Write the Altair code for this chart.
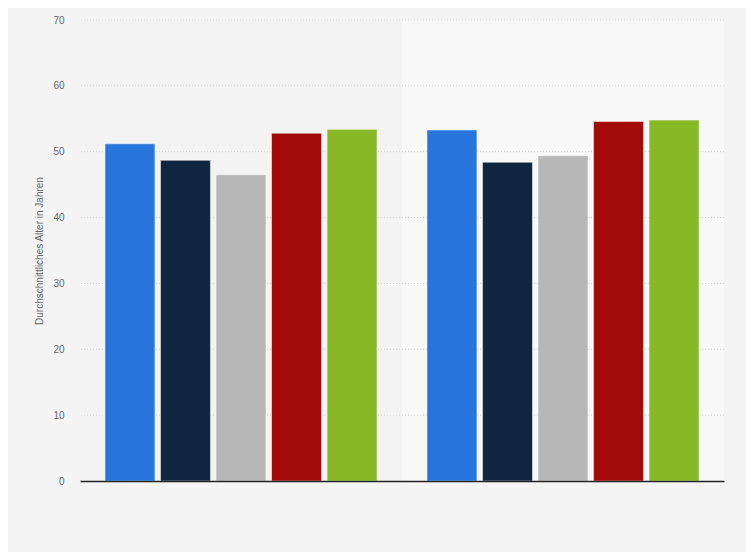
import altair as alt
import pandas as pd

groups = ["Gruppe 1", "Gruppe 2"]
series = ["Kategorie A", "Kategorie B", "Kategorie C", "Kategorie D", "Kategorie E"]
colors = ["#2876dd", "#10263f", "#b7b7b7", "#a30a0a", "#87b825"]
values_g1 = [51.2, 48.7, 46.5, 52.8, 53.4]
values_g2 = [53.3, 48.4, 49.4, 54.6, 54.8]
y_ticks = [0, 10, 20, 30, 40, 50, 60, 70]

rows = []
for g, vals in zip(groups, [values_g1, values_g2]):
    for s, v in zip(series, vals):
        rows.append({"Gruppe": g, "Serie": s, "Wert": v})
df = pd.DataFrame(rows)

W, H = 644, 461
xscale = alt.Scale(domain=groups, paddingInner=0, paddingOuter=0)
yscale = alt.Scale(domain=[0, 70], nice=False)

x_axis = alt.Axis(labels=False, ticks=False, title=None, domain=True,
                  domainColor="#222", domainWidth=1.4)
y_axis = alt.Axis(values=y_ticks, grid=False, ticks=False, domain=False,
                  labelPadding=16, labelFontSize=10, labelColor="#666",
                  labelFont="Liberation Sans",
                  title="Durchschnittliches Alter in Jahren",
                  titleFontSize=10, titleFontWeight="normal",
                  titleColor="#666", titleFont="Liberation Sans",
                  titlePadding=8)

band = alt.Chart(pd.DataFrame({"Gruppe": [groups[1]]})).mark_rect(
    color="#f8f8f8"
).encode(
    x=alt.X("Gruppe:N", scale=xscale, axis=x_axis),
    y=alt.value(0),
    y2=alt.value(H),
)

grid = alt.Chart(pd.DataFrame({"t": y_ticks[1:]})).mark_rule(
    color="#d2d2d2", strokeDash=[1, 2], strokeWidth=1
).encode(
    y=alt.Y("t:Q", scale=yscale, axis=y_axis, title="Durchschnittliches Alter in Jahren"),
)

bars = alt.Chart(df).mark_bar(
    stroke="white", strokeWidth=1, strokeOpacity=0.5
).encode(
    x=alt.X("Gruppe:N", scale=xscale, axis=x_axis),
    xOffset=alt.XOffset("Serie:N", sort=series,
                        scale=alt.Scale(paddingInner=0.1, paddingOuter=0.45)),
    y=alt.Y("Wert:Q", scale=yscale, axis=y_axis,
            title="Durchschnittliches Alter in Jahren"),
    color=alt.Color("Serie:N", sort=series,
                    scale=alt.Scale(domain=series, range=colors), legend=None),
)

chart = alt.layer(band, grid, bars).properties(
    width=W, height=H,
    background="#f4f4f4",
    padding={"left": 72, "top": 12, "right": 22, "bottom": 71},
    autosize=alt.AutoSizeParams(type="none"),
).configure_view(stroke=None, fill="#f3f3f3")

chart.save("out.html", embed_options={"renderer": "svg", "actions": False})
